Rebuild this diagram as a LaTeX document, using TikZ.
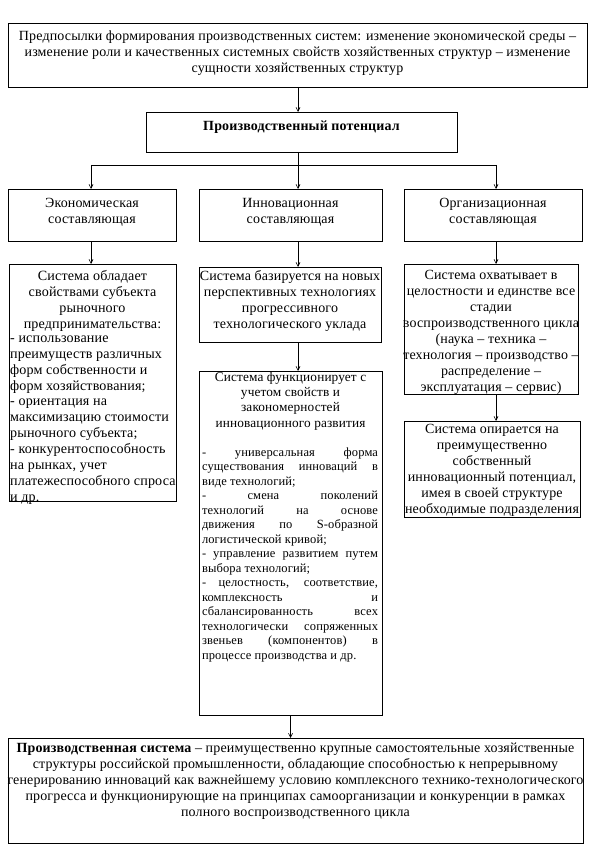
\documentclass[tikz,border=0pt]{standalone}
\usepackage{fontspec}
\setmainfont{Liberation Serif}[LetterSpace=1]
\usetikzlibrary{arrows.meta}
\begin{document}
\begin{tikzpicture}[x=1pt,y=-1pt,
  box/.style={draw, line width=0.8pt, inner sep=0pt, outer sep=0pt, anchor=north west},
  conn/.style={line width=0.6pt},
  arr/.style={line width=0.6pt, -{Straight Barb[length=4pt,width=4pt]}},
  txt/.style={align=center, inner sep=0pt, font=\fontsize{14}{16}\selectfont},
  txtl/.style={align=left, inner sep=0pt, font=\fontsize{14.1}{15.9}\selectfont},
  txtc/.style={align=center, inner sep=0pt, font=\fontsize{14.1}{15.9}\selectfont},
  txts/.style={align=center, inner sep=0pt, font=\fontsize{13.3}{15.3}\selectfont},
  txtj/.style={align=justify, text width=176pt, inner sep=0pt, font=\fontsize{12.5}{14.5}\selectfont}]
\useasboundingbox (0,0) rectangle (595,853);
% boxes
\node[box, minimum width=579pt, minimum height=64pt] (top) at (8,23) {};
\node[box, minimum width=311pt, minimum height=40pt] (pot) at (146,112) {};
\node[box, minimum width=168pt, minimum height=52pt] (econ) at (8,189) {};
\node[box, minimum width=183pt, minimum height=52pt] (innov) at (199,189) {};
\node[box, minimum width=178pt, minimum height=52pt] (org) at (404,189) {};
\node[box, minimum width=167pt, minimum height=237pt] (econB) at (9,264) {};
\node[box, minimum width=182pt, minimum height=75pt] (innovB) at (199,267) {};
\node[box, minimum width=183pt, minimum height=344pt] (innovC) at (199,371) {};
\node[box, minimum width=174pt, minimum height=130pt] (orgB) at (404,264) {};
\node[box, minimum width=176pt, minimum height=96pt] (orgC) at (404,421) {};
\node[box, minimum width=575pt, minimum height=105pt] (bot) at (8,738) {};
% connectors
\coordinate (hl) at (91,165);
\coordinate (hm) at (298,165);
\coordinate (hr) at (496,165);
\draw[arr] (top.south -| hm) -- (pot.north -| hm);
\draw[conn] (pot.south -| hm) -- (hm);
\draw[conn] (hl) -- (hr);
\draw[arr] (hl) -- (econ.north -| hl);
\draw[arr] (hm) -- (innov.north -| hm);
\draw[arr] (hr) -- (org.north -| hr);
\draw[arr] (econ.south -| hl) -- (econB.north -| hl);
\draw[arr] (innov.south -| hm) -- (innovB.north -| hm);
\draw[arr] (innovB.south -| hm) -- (innovC.north -| hm);
\draw[arr] (org.south -| hr) -- (orgB.north -| hr);
\draw[arr] (orgB.south -| hr) -- (orgC.north -| hr);
\draw[arr] (innovC.south) -- (innovC.south |- bot.north);
% texts
\node[txt] (ttop) at (297.5,53) {Предпосылки формирования производственных систем: изменение экономической среды –\\изменение роли и качественных системных свойств хозяйственных структур – изменение\\сущности хозяйственных структур};
\node[txt] (tpot) at (301.5,127) {\bfseries Производственный потенциал};
\node[txt] (tecon) at (92,212) {Экономическая\\составляющая};
\node[txt] (tinnov) at (290.5,212) {Инновационная\\составляющая};
\node[txt] (torg) at (493,212) {Организационная\\составляющая};
\node[txtc] (teconA) at (92.5,301) {Система обладает\\свойствами субъекта\\рыночного\\предпринимательства:};
\node[txtl, anchor=west] (teconB) at (10,420) {- использование\\преимуществ различных\\форм собственности и\\форм хозяйствования;\\- ориентация на\\максимизацию стоимости\\рыночного субъекта;\\- конкурентоспособность\\на рынках, учет\\платежеспособного спроса\\и др.};
\node[txt] (tinnovB) at (290,300.5) {Система базируется на новых\\перспективных технологиях\\прогрессивного\\технологического уклада};
\node[txts] (tinnovC) at (290.5,401) {Система функционирует с\\учетом свойств и\\закономерностей\\инновационного развития};
\node[txtj] (tinnovD) at (290,554.5) {\parindent=0pt\hyphenpenalty=10000
- универсальная форма\linebreak существования инноваций в\linebreak виде технологий;\par
- смена поколений\linebreak технологий на основе\linebreak движения по S-образной\linebreak логистической кривой;\par
- управление развитием путем\linebreak выбора технологий;\par
- целостность, соответствие,\linebreak комплексность и\linebreak сбалансированность всех\linebreak технологически сопряженных\linebreak звеньев (компонентов) в\linebreak процессе производства и др.};
\node[txt] (torgB) at (491,332.5) {Система охватывает в\\целостности и единстве все\\стадии\\воспроизводственного цикла\\(наука – техника –\\технология – производство –\\распределение –\\эксплуатация – сервис)};
\node[txt] (torgC) at (492,470) {Система опирается на\\преимущественно\\собственный\\инновационный потенциал,\\имея в своей структуре\\необходимые подразделения};
\node[txt] (tbot) at (295.5,781) {\textbf{Производственная система} – преимущественно крупные самостоятельные хозяйственные\\структуры российской промышленности, обладающие способностью к непрерывному\\генерированию инноваций как важнейшему условию комплексного технико-технологического\\прогресса и функционирующие на принципах самоорганизации и конкуренции в рамках\\полного воспроизводственного цикла};
\end{tikzpicture}
\end{document}
